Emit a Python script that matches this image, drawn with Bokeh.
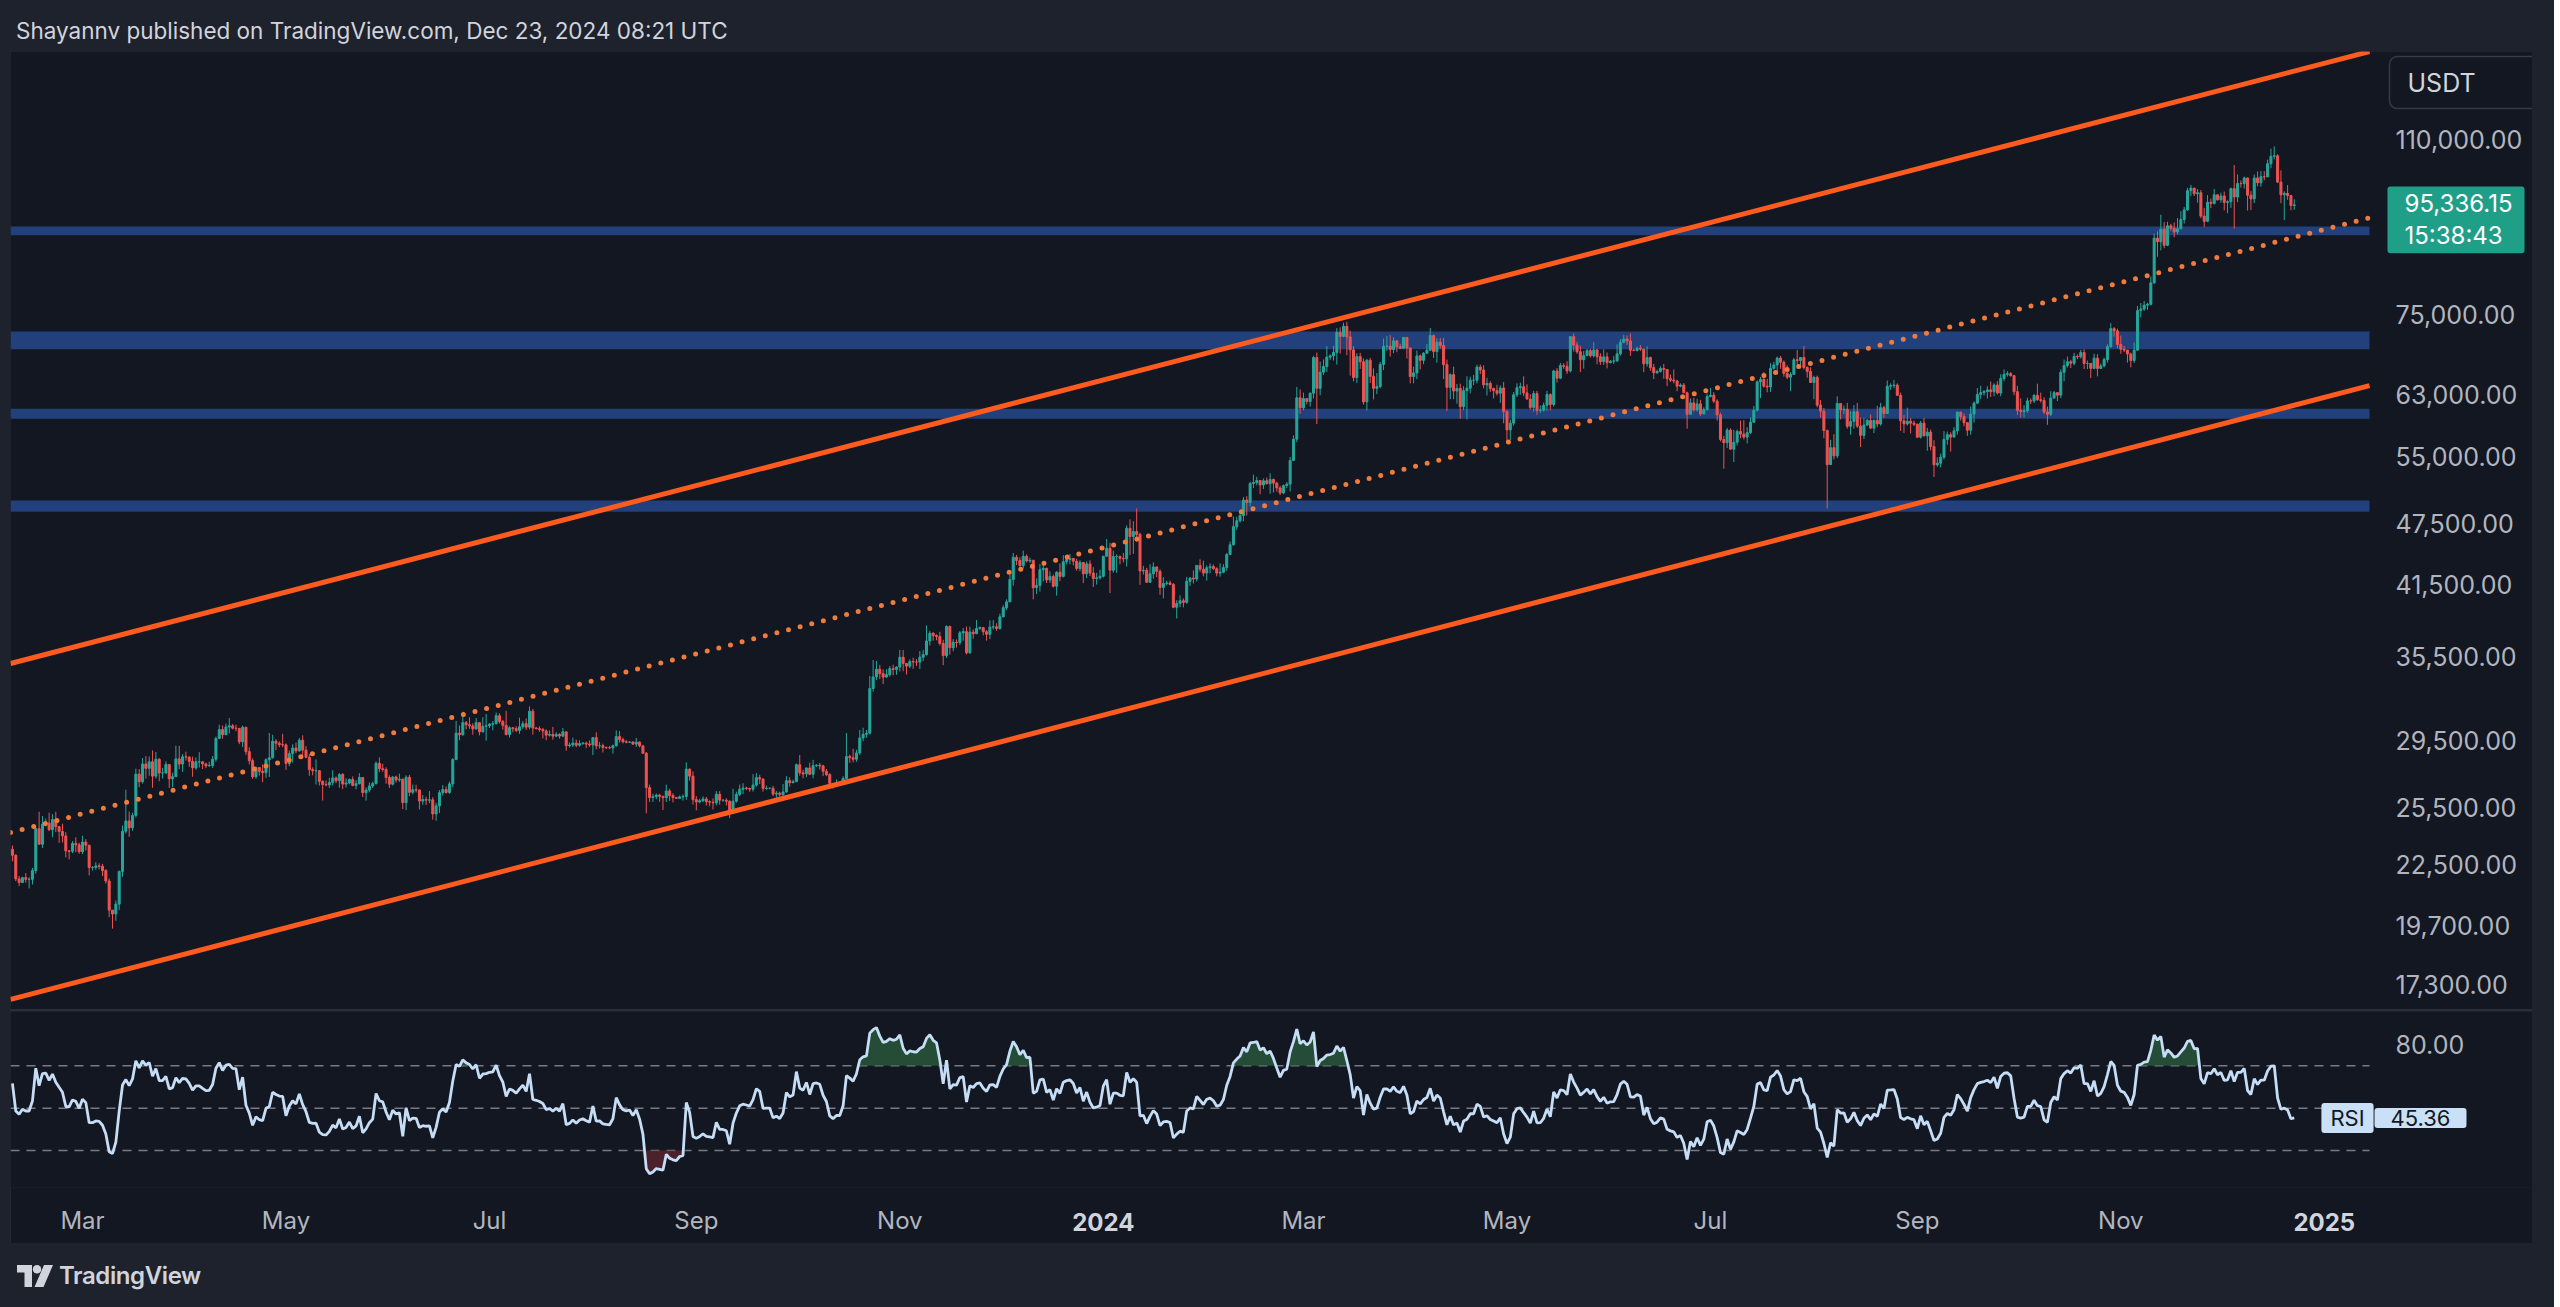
import numpy as np
import pandas as pd
from bokeh.plotting import figure
from bokeh.layouts import column, row
from bokeh.models import (ColumnDataSource, Range1d, FixedTicker, NumeralTickFormatter,
                          Label, Div, Spacer, LinearAxis)
from bokeh.embed import file_html
from bokeh.resources import INLINE

# ---------------- DATA ----------------
title_text = "Shayannv published on TradingView.com, Dec 23, 2024 08:21 UTC"

# closes before the visible window (only used to warm up the RSI), Jan 1 - Feb 7 2023
warmup_close = [16620, 16680, 16670, 16850, 16830, 16950, 16940, 17130, 17180, 17440,
                17940, 18850, 19930, 20950, 20870, 21180, 21130, 20680, 21070, 22670,
                22780, 22710, 22920, 22610, 23060, 23010, 23080, 23030, 23740, 22830, 23130,
                23730, 23490, 23430, 23330, 22930, 22760, 23260]

candle_start = "2023-02-08"   # daily candles BTC/USDT

close = [
    # 2023 Feb 8-28
    22960, 21800, 21630, 21860, 21780, 21780, 22200, 24330, 23520, 24570, 24630, 24280, 24830, 24440, 24190, 23950, 23180, 23160, 23560, 23490, 23140,
    # Mar
    23630, 23470, 22350, 22350, 22430, 22410, 22200, 21700, 20360, 20190, 20630, 22160, 24200, 24750, 24380, 25050, 27420, 26970, 28040, 27770, 28170, 27300, 28330, 27490, 27490, 28000, 27140, 27270, 28350, 28030, 28480,
    # Apr
    28460, 28200, 27800, 28170, 28170, 28040, 27920, 27950, 28330, 29650, 30230, 29890, 30400, 30480, 30320, 30310, 29430, 30380, 28800, 28240, 27260, 27820, 27590, 27510, 28300, 28420, 29470, 29340, 29250, 29230,
    # May
    28070, 28680, 29030, 28850, 29530, 28900, 28450, 27690, 27620, 27630, 26990, 26800, 26780, 26930, 27190, 27030, 27400, 26830, 26890, 27100, 26750, 26850, 27220, 26330, 26480, 26720, 26860, 28080, 27750, 27700, 27220,
    # Jun
    26820, 27250, 27070, 27120, 25760, 27230, 26350, 26500, 26480, 25850, 25940, 25900, 25920, 25130, 25580, 26330, 26510, 26340, 26840, 28310, 29990, 29890, 30690, 30550, 30470, 30270, 30690, 30080, 30450, 30480,
    # Jul
    30590, 30620, 31160, 30770, 30510, 29900, 30350, 30290, 30170, 30410, 30620, 30390, 31470, 30330, 30290, 30230, 30140, 29860, 29910, 29800, 29910, 29800, 30080, 29180, 29230, 29350, 29210, 29310, 29350, 29280, 29230,
    # Aug
    29700, 29170, 29180, 29070, 29050, 29040, 29180, 29770, 29570, 29430, 29400, 29420, 29280, 29410, 29170, 28700, 26620, 26050, 26100, 26190, 26120, 26040, 26430, 26160, 26050, 26000, 26090, 26110, 27720, 27300, 25930,
    # Sep
    25800, 25870, 25970, 25820, 25790, 25750, 26240, 25900, 25900, 25840, 25160, 25840, 26230, 26530, 26600, 26570, 26530, 26770, 27210, 27130, 26570, 26580, 26580, 26250, 26300, 26220, 26370, 27030, 26910, 26970,
    # Oct
    27990, 27500, 27430, 27790, 27410, 27930, 27960, 27920, 27590, 27390, 26870, 26760, 26860, 26860, 27160, 28500, 28420, 28330, 28720, 29680, 29920, 29990, 33070, 33920, 34500, 34160, 33910, 34090, 34540, 34480, 34660,
    # Nov
    35420, 34940, 34730, 35080, 35050, 35040, 35420, 35620, 36700, 37320, 37140, 37060, 36500, 35540, 37880, 36160, 36600, 36570, 37360, 37460, 35760, 37420, 37290, 37720, 37790, 37450, 37240, 37830, 37860, 37710,
    # Dec
    38690, 39470, 39980, 41980, 44080, 43770, 43290, 44170, 43720, 43790, 41240, 41450, 42890, 43020, 41940, 42260, 41370, 42660, 42270, 43650, 43860, 43970, 43700, 43010, 43580, 42510, 43440, 42580, 42070, 42140, 42280,
    # 2024 Jan
    44180, 44950, 42850, 44150, 44160, 43970, 43930, 46970, 46120, 46630, 46340, 42780, 42840, 41730, 42510, 43150, 42740, 41260, 41620, 41670, 41540, 39510, 39840, 40080, 39930, 41820, 42120, 42030, 43300, 42940, 42580,
    # Feb
    43080, 43190, 42990, 42580, 42660, 43090, 44340, 45290, 47130, 47750, 48290, 49960, 49700, 51800, 51910, 52140, 51640, 52120, 51780, 52260, 51850, 51300, 50740, 51570, 51730, 54480, 57080, 62500, 61130,
    # Mar
    62390, 61990, 63130, 68250, 63800, 66100, 66920, 68300, 68500, 69020, 72120, 71480, 73080, 71400, 69400, 65320, 68390, 67610, 61940, 67840, 65500, 63800, 64060, 67230, 69960, 69990, 69460, 70780, 69890, 69640, 71330,
    # Apr
    69700, 65460, 65990, 68490, 67840, 68900, 69360, 71620, 69140, 70590, 70060, 67190, 63930, 65740, 63420, 63790, 61280, 63470, 63820, 64940, 64940, 66840, 66410, 64290, 64500, 63770, 63460, 63120, 63840, 60640,
    # May
    58250, 59120, 62900, 63890, 64030, 63160, 62330, 61190, 63070, 60790, 60820, 61480, 62940, 61580, 66270, 65230, 67050, 66940, 66280, 71450, 70140, 69120, 67930, 68530, 69290, 68510, 69390, 68360, 67630, 68350, 67490,
    # Jun
    67710, 67750, 68800, 70570, 71080, 70760, 69340, 69300, 69650, 69510, 67320, 68240, 66760, 66010, 66190, 66640, 66490, 65170, 64960, 64830, 64100, 64250, 63180, 60280, 61800, 60860, 61670, 60320, 60890, 62680,
    # Jul
    62850, 62030, 60200, 57040, 56640, 58230, 55850, 56700, 58050, 57720, 57340, 57900, 59230, 60800, 64720, 65040, 64090, 63990, 66660, 67150, 68170, 67550, 65930, 65380, 65770, 67910, 67810, 68250, 66780, 66200, 64620,
    # Aug
    65350, 61500, 60700, 58160, 53990, 56030, 55030, 61710, 60880, 60940, 58710, 59350, 60600, 58740, 57560, 58870, 59480, 58480, 59490, 59010, 61160, 60380, 64100, 64180, 64260, 62830, 59420, 59030, 59370, 59120, 58970,
    # Sep
    57330, 59130, 57490, 57970, 56160, 53960, 54160, 54870, 57050, 57640, 57340, 58130, 60570, 60000, 59180, 58210, 60310, 61760, 62950, 63200, 63350, 63580, 63340, 64260, 63150, 65180, 65790, 65880, 65600, 63330,
    # Oct
    60800, 60650, 60750, 62070, 62060, 62820, 62220, 62130, 60580, 60280, 62450, 63200, 62850, 66080, 67050, 67620, 67400, 68420, 68360, 69000, 67360, 67370, 66650, 68160, 66640, 67010, 67940, 69910, 72720, 72340, 70220,
    # Nov
    69500, 69370, 68780, 67810, 69360, 75640, 75900, 76540, 76690, 80370, 88650, 87950, 90380, 87250, 91070, 90560, 89850, 90460, 92310, 94290, 98330, 98890, 97670, 97900, 93010, 91960, 95860, 95640, 97460, 96410,
    # Dec 1-23
    97190, 95840, 96000, 98770, 96990, 99880, 99870, 101110, 97360, 96590, 101120, 100040, 101400, 101370, 104300, 106030, 106140, 100200, 97460, 97760, 97290, 95190, 95336,
]

high = [
    23450, 23010, 21940, 21900, 22080, 21890, 22330, 24380, 25250, 25020, 24880, 25200, 25120, 25250, 24480, 24600, 24150, 23210, 23680, 23880, 23600,
    23960, 23780, 23480, 22420, 22610, 22560, 22530, 22270, 21820, 20290, 20790, 22200, 24500, 26500, 25260, 25200, 27750, 27730, 28400, 28520, 28500, 28880, 28780, 28390, 27800, 28200, 28040, 27500, 29180, 29170, 28650,
    28800, 28520, 28490, 28440, 28770, 28190, 28110, 28180, 28530, 29770, 30550, 30500, 30620, 31000, 30600, 30550, 30320, 30490, 30410, 29080, 28380, 27880, 27820, 28010, 28380, 30000, 29890, 29600, 29460, 29950,
    29330, 28880, 29270, 29380, 29680, 29850, 29150, 28660, 27830, 28320, 27640, 27050, 27040, 27200, 27660, 27280, 27480, 27480, 27170, 27160, 27280, 27060, 27480, 27230, 26630, 26930, 26980, 28200, 28440, 28050, 27830,
    27350, 27300, 27330, 27450, 27140, 27350, 27380, 26800, 26790, 26530, 26200, 26100, 26420, 26070, 25750, 26480, 26770, 26690, 26980, 28400, 30800, 30500, 31430, 30800, 31050, 30650, 31000, 30720, 31060, 31280,
    30660, 30800, 31380, 31320, 30880, 31500, 30450, 30380, 30450, 31030, 30800, 30980, 31800, 31630, 30400, 30440, 30340, 30240, 30180, 30400, 30050, 29990, 30340, 30100, 29390, 29700, 29570, 29530, 29410, 29440, 29520,
    29740, 30050, 29420, 29310, 29120, 29170, 29250, 30180, 30130, 29700, 29540, 29470, 29450, 29680, 29450, 29230, 28780, 26800, 26270, 26280, 26260, 26140, 26800, 26550, 26300, 26090, 26170, 26230, 28140, 27760, 27580,
    26130, 25980, 26120, 26080, 25890, 26000, 26420, 26420, 25940, 26000, 25890, 26550, 26390, 26800, 26880, 26680, 26620, 27420, 27480, 27380, 27160, 26740, 26640, 26720, 26420, 26390, 26830, 27300, 27230, 27090,
    28060, 28590, 27680, 27830, 28120, 28290, 28020, 28100, 27990, 27730, 27480, 26880, 27100, 26960, 27290, 30000, 28610, 28990, 28920, 30200, 30350, 30200, 34000, 35200, 35130, 34830, 34480, 34490, 34750, 34850, 34720,
    35990, 35980, 34940, 35250, 35380, 35280, 35900, 35990, 37970, 37520, 37410, 37230, 37440, 36780, 37980, 37950, 36850, 36820, 37520, 37750, 37880, 37860, 37640, 38420, 37880, 37830, 37590, 38390, 38420, 38150,
    38960, 39690, 40200, 42420, 44490, 44300, 44070, 44720, 44350, 44040, 43800, 42100, 43430, 43400, 43090, 42740, 42440, 42750, 43480, 44280, 44240, 44390, 43980, 43940, 43800, 43620, 43680, 43790, 43130, 42600, 42900,
    44200, 45880, 45500, 44730, 44350, 44240, 44500, 47250, 47900, 47700, 49050, 46500, 43260, 43070, 43400, 43580, 43200, 42930, 42200, 41880, 41880, 41650, 40130, 40550, 40280, 42230, 42200, 42830, 43330, 43880, 43750,
    43300, 43500, 43380, 43120, 43500, 43420, 44500, 45620, 48200, 48170, 48590, 50300, 50380, 52000, 52820, 52570, 52200, 52370, 52480, 52980, 52370, 52000, 51550, 51680, 51960, 54900, 57560, 64000, 63650,
    63200, 62440, 63200, 68500, 69000, 67650, 67970, 69980, 68730, 70000, 72800, 72900, 73650, 73800, 72350, 70000, 68900, 68950, 68100, 68030, 68200, 66650, 65980, 67600, 71150, 71550, 71680, 71350, 70900, 70350, 71370,
    71300, 69700, 66900, 69300, 68720, 69050, 70300, 72800, 71750, 71200, 71250, 71250, 67950, 65900, 66900, 64400, 64450, 64100, 65500, 65450, 65700, 67200, 67200, 67100, 65300, 64800, 63900, 64300, 64200, 64700,
    60850, 59600, 63300, 64500, 64600, 65500, 64350, 62980, 63450, 63450, 61450, 61850, 63450, 63100, 66450, 66700, 67450, 67400, 67700, 71500, 71950, 70650, 70050, 69250, 69550, 69550, 70600, 69550, 68900, 69500, 69000,
    67850, 68450, 70250, 71050, 71750, 71650, 71950, 69550, 69900, 70150, 69550, 69950, 68400, 67300, 66450, 66950, 67300, 66500, 65750, 66500, 65000, 64500, 64550, 63350, 62400, 62500, 62350, 62200, 61200, 63050,
    63850, 63250, 62280, 60500, 57500, 58500, 58450, 58250, 58300, 59450, 59500, 58600, 59850, 61400, 64900, 65400, 66100, 65150, 67400, 67600, 68400, 68500, 67800, 67100, 66100, 68200, 69400, 68300, 70000, 66950, 66800,
    65600, 65600, 62200, 61100, 58300, 57000, 57700, 62700, 61750, 61450, 61800, 60700, 61500, 61800, 59850, 59800, 59650, 60250, 59600, 61400, 61800, 61400, 64900, 64500, 65000, 64500, 63200, 60200, 61150, 59800, 59450,
    59050, 59400, 59800, 58500, 58300, 56950, 54850, 55300, 58100, 58050, 57950, 58600, 60650, 60600, 60400, 59200, 61300, 62000, 63850, 64150, 63550, 64100, 64750, 64500, 64800, 65800, 66500, 66250, 66100, 65650,
    64150, 62400, 61500, 62500, 62400, 63000, 64450, 63200, 62550, 61300, 63400, 63450, 63300, 66500, 67950, 68400, 67900, 68950, 68700, 69400, 69500, 67800, 67450, 68800, 68750, 67350, 68250, 70250, 73600, 72950, 72700,
    71600, 70000, 69400, 69000, 70550, 76400, 76900, 77250, 76950, 81500, 89500, 89950, 93300, 91800, 91850, 91450, 91750, 92600, 94000, 94900, 98950, 99600, 98800, 98700, 98500, 94700, 97400, 96650, 98700, 97450,
    97900, 98150, 96300, 99000, 104000, 101900, 100550, 101400, 101200, 98250, 101900, 102550, 102650, 102650, 105250, 107800, 108350, 106500, 102800, 98200, 99550, 97400, 96500,
]

low = [
    22660, 21690, 21460, 21600, 21620, 21350, 21530, 22050, 23500, 23330, 24450, 24200, 23880, 24150, 23590, 23610, 22850, 22750, 23070, 23110, 23030,
    23020, 23200, 21970, 22200, 22240, 22260, 21930, 21580, 20050, 19550, 19890, 20360, 21900, 24080, 23900, 24220, 24930, 26650, 26860, 27150, 27330, 26610, 27150, 27000, 27160, 27420, 26600, 26650, 27240, 27720, 27550,
    28250, 27860, 27260, 27680, 27820, 27730, 27780, 27880, 27800, 28170, 29610, 29630, 29870, 29970, 30240, 30120, 29280, 29100, 28600, 28010, 27130, 27150, 27330, 26940, 27200, 27250, 28380, 28900, 29090, 29090,
    27680, 27900, 28120, 28700, 28800, 28400, 28390, 27320, 27350, 26800, 26740, 25880, 26700, 26600, 26750, 26880, 26620, 26540, 26630, 26810, 26700, 26520, 26810, 26080, 25870, 26350, 26600, 26800, 27540, 27560, 26850,
    26600, 26750, 26920, 26960, 25400, 25350, 26130, 26230, 26340, 25380, 25640, 25630, 25730, 24820, 24760, 25180, 26170, 26280, 26260, 26650, 28270, 29530, 29820, 30250, 30280, 29890, 30230, 29850, 30030, 29500,
    30330, 30180, 30570, 30630, 30220, 29850, 29700, 30050, 30060, 29950, 30280, 30210, 30250, 29900, 30250, 30080, 29650, 29530, 29770, 29570, 29730, 29640, 29750, 28860, 29060, 29100, 29080, 29120, 29250, 29030, 29110,
    28590, 28940, 29000, 28750, 28960, 28960, 28680, 29120, 29380, 29330, 29340, 29360, 29250, 29100, 29070, 28700, 25170, 25800, 25800, 25950, 25810, 25350, 25800, 25860, 25770, 25970, 25960, 25880, 25920, 27030, 25650,
    25330, 25720, 25800, 25600, 25560, 25380, 25610, 25650, 25810, 25600, 24900, 25140, 25760, 26130, 26250, 26480, 26380, 26390, 26680, 26830, 26390, 26480, 26530, 26130, 26000, 26090, 26110, 26340, 26680, 26880,
    26950, 27330, 27170, 27240, 27360, 27170, 27860, 27700, 27300, 27300, 26550, 26560, 26700, 26810, 26820, 27110, 28100, 28130, 28170, 28600, 29470, 29700, 29900, 32850, 33700, 33760, 33400, 33870, 33950, 34050, 34080,
    34330, 34350, 34100, 34580, 34530, 34740, 34520, 35120, 35550, 36340, 36730, 36750, 36340, 34800, 35360, 35620, 35880, 36170, 36380, 36720, 35630, 35680, 36880, 37250, 37600, 37150, 36730, 36850, 37610, 37520,
    37620, 38650, 39280, 39960, 41410, 43330, 42850, 43000, 43580, 43550, 40200, 40680, 40890, 41810, 41660, 41680, 41250, 40530, 41820, 42180, 43400, 43410, 43300, 42800, 42750, 41650, 42100, 42310, 41310, 41520, 41970,
    42180, 44150, 40750, 42620, 42600, 43400, 43580, 43200, 44300, 44400, 45600, 41500, 42440, 41720, 41700, 42050, 42200, 40600, 40280, 41450, 41450, 39430, 38550, 39500, 39500, 39820, 41400, 41620, 41800, 42700, 42280,
    41880, 42580, 42880, 42280, 42250, 42570, 42780, 44330, 45240, 46800, 47560, 47700, 48300, 49250, 51300, 51600, 50600, 51190, 51700, 50650, 50800, 50900, 50500, 50600, 51300, 50900, 54450, 56700, 60350,
    60800, 61600, 61300, 62400, 59000, 62850, 65700, 66150, 67900, 67800, 67200, 68850, 71350, 68600, 65600, 64780, 64550, 66580, 61560, 60780, 64550, 62260, 63000, 63800, 66400, 69250, 68380, 68900, 69050, 69550, 69600,
    68100, 64500, 64500, 65100, 66500, 67250, 68800, 69250, 68200, 67500, 69570, 65100, 60700, 62300, 62300, 61700, 59700, 60800, 59600, 63100, 64250, 64500, 65800, 63800, 62800, 63300, 62400, 62800, 61800, 59100,
    56550, 56950, 58800, 62600, 62900, 62700, 62250, 60900, 60600, 60200, 60450, 60630, 60750, 60800, 61300, 64600, 65100, 66600, 65850, 66050, 69150, 68800, 66100, 66600, 68500, 68250, 68250, 67250, 67150, 67150, 66650,
    67400, 67300, 67600, 68550, 70400, 70150, 68500, 69200, 69150, 69250, 66100, 66900, 66300, 65100, 65850, 66050, 65150, 64100, 64700, 64500, 63400, 63950, 63150, 58400, 60300, 60650, 60650, 60050, 60400, 60750,
    62550, 61800, 59450, 56800, 53500, 56000, 55750, 54300, 56300, 57200, 57050, 56550, 57750, 59250, 60650, 62450, 63900, 63250, 63300, 66450, 65800, 66600, 65450, 65100, 63400, 65750, 66600, 67050, 66500, 65300, 64550,
    62300, 61200, 59850, 57200, 49050, 54000, 54600, 54750, 59600, 60300, 58400, 57650, 58400, 58500, 56100, 57100, 58800, 58400, 57850, 58600, 58800, 59800, 60350, 63600, 63800, 62800, 58100, 57850, 58800, 57800, 58750,
    57200, 57150, 57450, 55650, 55700, 52550, 53750, 53650, 54600, 56400, 55550, 57350, 57650, 59450, 58700, 57500, 57650, 59200, 61650, 62350, 62800, 62400, 62600, 62700, 62950, 62700, 64800, 65450, 65450, 62850,
    60200, 59850, 59850, 60450, 61650, 61800, 62100, 61850, 60300, 58900, 60050, 62450, 62050, 62450, 64800, 66750, 66700, 67100, 68000, 68100, 66550, 66550, 65250, 66550, 65500, 66550, 66800, 67500, 69700, 71450, 69650,
    68800, 69050, 67500, 66800, 67450, 69300, 74500, 75600, 75750, 76500, 80200, 85100, 86300, 86700, 87100, 90050, 88800, 89400, 90800, 91500, 94100, 97200, 97200, 95800, 92600, 90800, 91800, 94650, 95400, 96200,
    95800, 94200, 93600, 94700, 90500, 95900, 99000, 98800, 94150, 94250, 95700, 99300, 99200, 100600, 101250, 103300, 105300, 100000, 95700, 92200, 96400, 94200, 94300,
]

# horizontal support / resistance zones (price bands)
zone_low = [89200, 69500, 59700, 48700]
zone_high = [90900, 72250, 61000, 49900]

# channel drawn on the chart: two end points (date, price)
channel_dates = ["2023-02-07 10:05", "2025-01-14 13:10"]
upper_prices = [34935, 133330]
lower_prices = [16745, 64170]
mid_prices = [24130, 92690]

price_ticks = [17300, 19700, 22500, 25500, 29500, 35500, 41500, 47500, 55000, 63000, 75000, 110000]
month_ticks = ["2023-03-01", "2023-05-01", "2023-07-01", "2023-09-01", "2023-11-01", "2024-01-01",
               "2024-03-01", "2024-05-01", "2024-07-01", "2024-09-01", "2024-11-01", "2025-01-01"]
month_labels = ["Mar", "May", "Jul", "Sep", "Nov", "2024", "Mar", "May", "Jul", "Sep", "Nov", "2025"]
rsi_levels = [70, 50, 30]
rsi_ticks = [80]
quote_currency = "USDT"
last_price = 95336.15
last_price_text = "95,336.15"
countdown_text = "15:38:43"
rsi_name = "RSI"
rsi_last_text = "45.36"

# ---------------- STYLE ----------------
FONT = "Inter"
BG = "#131722"
OUTER = "#1e222d"
AXIS_TXT = "#b2b5be"
LIGHT_TXT = "#d1d4dc"
UP = "#26a69a"
DOWN = "#ef5350"
ZONE = "#22407b"
ORANGE = "#ff5b1e"
DOT = "#f07b3c"
RSI_COL = "#c6ddf6"

PLOT_W = 2359          # width of the data area (left of the price scale)
SCALE_W = 163          # price-scale column
FRAME_W = PLOT_W + SCALE_W
MAIN_H = 958
RSI_H = 176
RSI_AXIS_H = 56
DAY_MS = 86400000.0
LABEL_STANDOFF = 20 - SCALE_W   # tick labels drawn inside the price-scale column


def ms(d):
    return pd.Timestamp(d).value / 1e6


def wilder_rsi(values, period=14):
    v = np.asarray(values, float)
    d = np.diff(v)
    g = np.clip(d, 0, None)
    ls = np.clip(-d, 0, None)
    ag = np.full(d.size, np.nan)
    al = np.full(d.size, np.nan)
    ag[period - 1] = g[:period].mean()
    al[period - 1] = ls[:period].mean()
    for i in range(period, d.size):
        ag[i] = (ag[i - 1] * (period - 1) + g[i]) / period
        al[i] = (al[i - 1] * (period - 1) + ls[i]) / period
    r = 100 - 100 / (1 + ag / al)
    return np.concatenate([[np.nan], r])


n = min(len(close), len(high), len(low))
dates = pd.date_range(candle_start, periods=n, freq="D")
xs = np.array([ms(d) for d in dates])
c = np.array(close[:n], float)
o = np.concatenate([[warmup_close[-1]], c[:-1]])
h = np.maximum(np.array(high[:n], float), np.maximum(o, c))
l = np.minimum(np.array(low[:n], float), np.minimum(o, c))
col = np.where(c >= o, UP, DOWN)
src = ColumnDataSource(dict(x=xs, h=h, l=l, top=np.maximum(o, c), bottom=np.minimum(o, c), color=col))

x_start, x_end = ms(channel_dates[0]), ms(channel_dates[1])
x_frame_end = x_start + (x_end - x_start) * FRAME_W / PLOT_W
y_lo, y_hi = 16380, 133360
ppd = MAIN_H / (np.log10(y_hi) - np.log10(y_lo))   # pixels per decade


def style_axis(ax, size="25px", standoff=20):
    ax.axis_line_color = None
    ax.major_tick_line_color = None
    ax.minor_tick_line_color = None
    ax.major_label_standoff = standoff
    ax.major_label_text_color = AXIS_TXT
    ax.major_label_text_font = FONT
    ax.major_label_text_font_size = size


# ---------------- MAIN PANE ----------------
p = figure(x_range=Range1d(x_start, x_frame_end), y_range=Range1d(y_lo, y_hi), y_axis_type="log",
           y_axis_location="right", x_axis_location=None, title=None,
           frame_width=FRAME_W, frame_height=MAIN_H,
           min_border_left=0, min_border_right=0, min_border_top=0, min_border_bottom=0,
           toolbar_location=None, output_backend="svg",
           background_fill_color=BG, border_fill_color=BG, outline_line_color=None)
p.grid.visible = False
ya = p.yaxis[0]
ya.ticker = FixedTicker(ticks=price_ticks)
ya.formatter = NumeralTickFormatter(format="0,0.00")
style_axis(ya, "25px", LABEL_STANDOFF)

p.quad(left=[x_start] * len(zone_low), right=[x_end] * len(zone_low), bottom=zone_low, top=zone_high,
       fill_color=ZONE, line_color=None)
p.segment(x0="x", y0="l", x1="x", y1="h", line_color="color", line_width=1, source=src)
p.vbar(x="x", width=0.6 * DAY_MS, top="top", bottom="bottom", fill_color="color",
       line_color="color", line_width=1, source=src)

cx = [x_start, x_end]
p.line(cx, upper_prices, line_color=ORANGE, line_width=5)
p.line(cx, lower_prices, line_color=ORANGE, line_width=5)
p.line(cx, mid_prices, line_color=DOT, line_width=5, line_dash="0 12", line_cap="round")

# annotations in the price-scale column (screen units, measured from the frame's bottom-left)
p.add_layout(Label(x=PLOT_W + 20, y=MAIN_H - (80 - 49), x_units="screen", y_units="screen",
                   text=quote_currency, text_align="left", text_baseline="middle",
                   text_font=FONT, text_font_size="25px", text_color=LIGHT_TXT,
                   border_line_color="#363a45", border_line_width=1.5, border_radius=8,
                   padding=dict(left=18, right=76, top=11, bottom=11)))
price_px_from_top = (np.log10(y_hi) - np.log10(last_price)) * ppd
p.add_layout(Label(x=PLOT_W + 18, y=MAIN_H - (price_px_from_top + 15), x_units="screen", y_units="screen",
                   text=last_price_text + "\n" + countdown_text,
                   text_align="left", text_baseline="middle", text_font=FONT, text_font_size="24px",
                   text_color="#ffffff", text_line_height=1.1, background_fill_color="#1f9e88",
                   border_radius=3, padding=dict(left=17, right=12, top=3, bottom=3)))

# ---------------- RSI PANE ----------------
all_rsi = wilder_rsi(list(warmup_close) + list(c))
rsi = all_rsi[len(warmup_close):]
r_lo, r_hi = 12.55, 95.6
rpp = RSI_H / (r_hi - r_lo)

p2 = figure(x_range=p.x_range, y_range=Range1d(r_lo, r_hi), y_axis_location="right", title=None,
            frame_width=FRAME_W, frame_height=RSI_H,
            min_border_left=0, min_border_right=0, min_border_top=0, min_border_bottom=RSI_AXIS_H,
            toolbar_location=None, output_backend="svg",
            background_fill_color=BG, border_fill_color=BG, outline_line_color=None)
p2.grid.visible = False
ra = p2.yaxis[0]
ra.ticker = FixedTicker(ticks=rsi_ticks)
ra.formatter = NumeralTickFormatter(format="0.00")
style_axis(ra, "25px", LABEL_STANDOFF)

tick_ms = [ms(d) for d in month_ticks]
m_ticks = [t for t, lbl in zip(tick_ms, month_labels) if not lbl.isdigit()]
y_ticks = [t for t, lbl in zip(tick_ms, month_labels) if lbl.isdigit()]
xa = p2.xaxis[0]
xa.ticker = FixedTicker(ticks=m_ticks)
xa.major_label_overrides = {t: lbl for t, lbl in zip(tick_ms, month_labels) if not lbl.isdigit()}
style_axis(xa, "24px", 12)

# second time axis holding the (bold) year labels, pulled up onto the same row
ya2 = LinearAxis(ticker=FixedTicker(ticks=y_ticks),
                 major_label_overrides={t: lbl for t, lbl in zip(tick_ms, month_labels) if lbl.isdigit()})
style_axis(ya2, "24px", -31)
ya2.major_label_text_font_style = "bold"
ya2.major_label_text_color = LIGHT_TXT
p2.add_layout(ya2, "below")

lv_src = ColumnDataSource(dict(x0=[x_start] * len(rsi_levels), x1=[x_end] * len(rsi_levels),
                               y=rsi_levels))
p2.segment(x0="x0", y0="y", x1="x1", y1="y", source=lv_src, line_color="#787b86", line_width=1.5,
           line_dash="9 7")

p2.varea(x=xs, y1=np.full(n, 70.0), y2=np.maximum(rsi, 70.0), fill_color="#2b5a3c", fill_alpha=0.8)
p2.varea(x=xs, y1=np.minimum(rsi, 30.0), y2=np.full(n, 30.0), fill_color="#5a2630", fill_alpha=0.8)
p2.line(xs, rsi, line_color=RSI_COL, line_width=2.8)

badge_sy = (float(rsi_last_text) - r_lo) * rpp
p2.add_layout(Label(x=PLOT_W - 22, y=badge_sy, x_units="screen", y_units="screen", text=rsi_name,
                    text_align="center", text_baseline="middle", text_font=FONT, text_font_size="22px",
                    text_color="#131722", background_fill_color="#c9e0f7", border_radius=3,
                    padding=dict(left=9, right=9, top=2, bottom=2)))
p2.add_layout(Label(x=PLOT_W + 51, y=badge_sy, x_units="screen", y_units="screen", text=rsi_last_text,
                    text_align="center", text_baseline="middle", text_font=FONT, text_font_size="22px",
                    text_color="#131722", background_fill_color="#c9e0f7", border_radius=3,
                    padding=dict(left=16, right=16, top=2, bottom=2)))

# ---------------- PAGE ----------------
header = Div(text=('<div style="padding:13px 0 0 11px;font-family:Inter;font-size:22.5px;line-height:26px;'
                   'color:#d1d4dc;white-space:nowrap">' + title_text + '</div>'),
             width=2544, height=41)
logo_svg = ('<svg width="36" height="22" viewBox="0 0 36 22">'
            '<path d="M0 0h15v22h-7.5v-14.5h-7.5z" fill="#d1d4dc"/>'
            '<circle cx="20" cy="4.2" r="4.2" fill="#d1d4dc"/>'
            '<path d="M27 0h9l-9.5 22h-9z" fill="#d1d4dc"/></svg>')
footer = Div(text=('<div style="display:flex;align-items:center;padding:11px 0 0 12px;">' + logo_svg +
                   '<span style="font-family:Inter;font-size:24px;font-weight:600;color:#d1d4dc;'
                   'margin-left:6px;letter-spacing:-0.4px">TradingView</span></div>'),
             width=2544, height=58)
panel = column(p, p2, spacing=2, styles={"background-color": "#2a2e39"})
mid_h = MAIN_H + 2 + RSI_H + RSI_AXIS_H
middle = row(Spacer(width=10, height=mid_h), panel, Spacer(width=12, height=mid_h))
page = column(header, middle, footer, styles={"background-color": OUTER})

open("out.html", "w").write(file_html(page, INLINE))
